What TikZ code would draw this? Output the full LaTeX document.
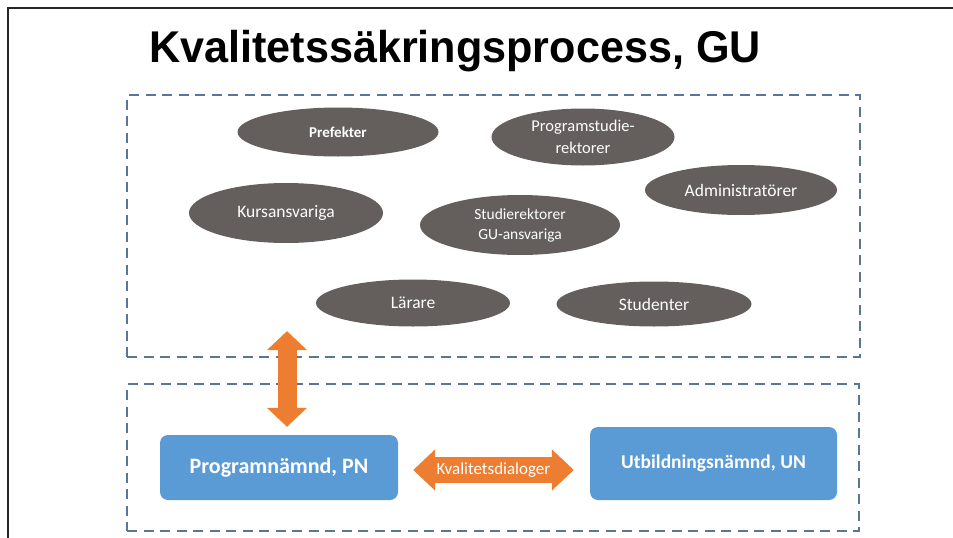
\documentclass[tikz,border=0pt]{standalone}
\usepackage{fontspec}
\setmainfont{Liberation Sans}
\newfontfamily\calib{Carlito}
\usepackage{tikz}
\usetikzlibrary{arrows.meta,shapes.geometric}

\definecolor{ellgrey}{HTML}{645E5D}
\definecolor{boxblue}{HTML}{5B9BD5}
\definecolor{arrorange}{HTML}{ED7D31}
\definecolor{dashblue}{HTML}{5A7696}

\begin{document}
\begin{tikzpicture}[x=1pt,y=-1pt]
        \useasboundingbox (0,0) rectangle (953,538);
        \draw [line width=2.2pt, black!85] (8,538) -- (8,8) -- (953,8);

        \node (title) [xscale=0.97] at (455,51) {\fontsize{44.5}{50}\selectfont\bfseries Kvalitetssäkringsprocess, GU};

        \begin{scope}[every node/.style={draw=dashblue, line width=2.2pt, dash pattern=on 10pt off 6.5pt, rectangle, inner sep=0pt}]
            \node (T) [minimum width=733pt, minimum height=262pt] at (493.5,226) {};
            \node (L) [minimum width=732pt, minimum height=147pt] at (493,457.5) {};
        \end{scope}

        \begin{scope}[every node/.style={fill=ellgrey, ellipse, inner sep=0pt, text=white, align=center, font=\calib\fontsize{17.5}{22}\selectfont}]
            \node (A) [minimum width=201pt, minimum height=49pt, font=\calib\bfseries\fontsize{15}{18}\selectfont] at (338,132) {Prefekter};
            \node (B) [minimum width=183pt, minimum height=57pt, font=\calib\fontsize{16.5}{22}\selectfont] at (583,137) {Programstudie-\\rektorer};
            \node (C) [minimum width=192pt, minimum height=50pt] at (741,190) {Administratörer};
            \node (D) [minimum width=194pt, minimum height=60pt] at (286,213) {Kursansvariga};
            \node (E) [minimum width=200pt, minimum height=60pt, font=\calib\fontsize{15.5}{20}\selectfont] at (520,225) {Studierektorer\\GU-ansvariga};
            \node (F) [minimum width=194pt, minimum height=47pt] at (413,303) {Lärare};
            \node (G) [minimum width=195pt, minimum height=45pt] at (654,304) {Studenter};
        \end{scope}

        \begin{scope}[every node/.style={fill=boxblue, rectangle, rounded corners=8pt, text=white, font=\calib\bfseries}]
            \node (PN) [minimum width=238pt, minimum height=65pt, font=\calib\bfseries\fontsize{22}{26}\selectfont] at (279,467.5) {Programnämnd, PN};
            \node (UN) [minimum width=247pt, minimum height=73pt, font=\calib\bfseries\fontsize{19.5}{24}\selectfont] at (713.5,463.5) {Utbildningsnämnd, UN};
        \end{scope}

        \begin{scope}[every edge/.style={draw=arrorange}]
            \path [line width=19pt, {Triangle[length=19pt,width=39pt]}-{Triangle[length=19pt,width=39pt]}]
                  ([xshift=-206.5pt,yshift=27pt]T.south) edge ([xshift=8pt,yshift=8pt]PN.north);
            \path [line width=26pt, {Triangle[length=22pt,width=40pt]}-{Triangle[length=22pt,width=40pt]}]
                  ([xshift=15pt,yshift=-2.5pt]PN.east) edge node [text=white, font=\calib\fontsize{17}{20}\selectfont] {Kvalitetsdialoger} ([xshift=-16pt,yshift=-2.5pt]UN.west |- PN.east);
        \end{scope}
    \end{tikzpicture}
\end{document}
